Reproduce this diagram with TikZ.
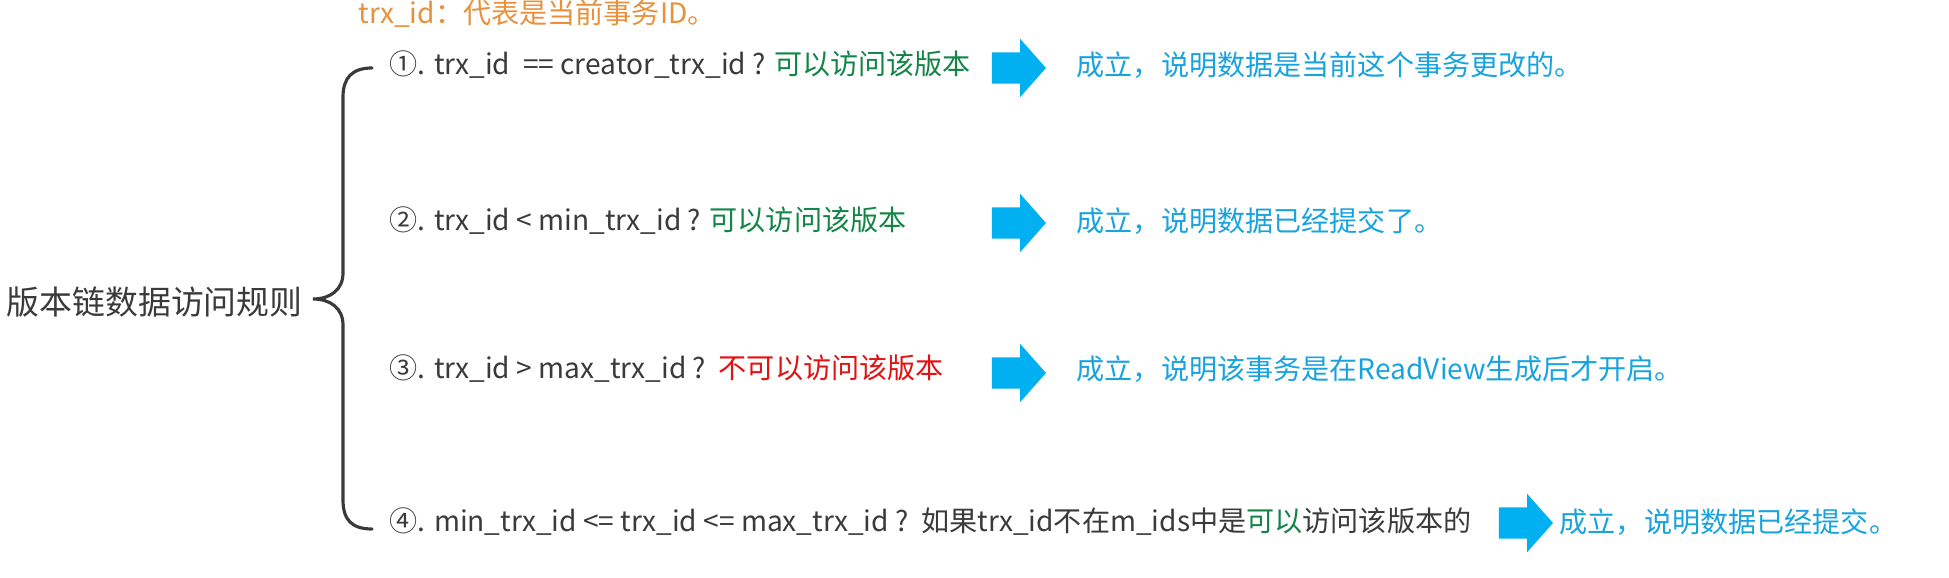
\documentclass[tikz,border=0pt]{standalone}
\usepackage{fontspec}
\setmainfont{Noto Sans CJK SC}
\usepackage{xcolor}
\definecolor{Notecolor}{RGB}{232,145,60}
\definecolor{Okcolor}{RGB}{18,133,70}
\definecolor{Nocolor}{RGB}{226,18,18}
\definecolor{Rescolor}{RGB}{24,162,222}
\definecolor{Blkcolor}{RGB}{0,176,240}
\definecolor{Txtcolor}{RGB}{58,58,58}
\usetikzlibrary{positioning, shapes.arrows}

\begin{document}
\begin{tikzpicture}[
  cond/.style={
    anchor=west, inner sep=0pt, text=Txtcolor,
    font=\fontsize{8pt}{9.5pt}\selectfont
  },
  res/.style={
    anchor=west, inner sep=0pt, text=Rescolor,
    font=\fontsize{8pt}{9.5pt}\selectfont
  },
  blk/.style={
    single arrow, fill=Blkcolor, draw=none,
    minimum height=0.54cm, inner xsep=0pt, inner ysep=0.15cm,
    single arrow head extend=0.135cm, single arrow tip angle=97
  },
  brace/.style={draw=Txtcolor, line width=0.9pt, line cap=round}
]
\useasboundingbox (0,0) rectangle (19.49,5.78);

%% ═══════════════════════════════════════════════
%% Nota y regla
%% ═══════════════════════════════════════════════
\node[cond, text=Notecolor] (note) at (3.58, 5.64)
  {trx\_id：代表是当前事务ID。};
\node[cond, font=\fontsize{9.35pt}{11pt}\selectfont] (rule) at (0.06, 2.76)
  {版本链数据访问规则};

%% Llave
\draw[brace] (3.72, 5.10) .. controls (3.52, 5.10) and (3.43, 5.00) .. (3.43, 4.81)
  -- (3.43, 3.05) .. controls (3.43, 2.88) and (3.30, 2.79) .. (3.13, 2.79)
  .. controls (3.30, 2.79) and (3.43, 2.70) .. (3.43, 2.53)
  -- (3.43, 0.78) .. controls (3.43, 0.58) and (3.52, 0.49) .. (3.72, 0.49);

%% ═══════════════════════════════════════════════
%% Condiciones
%% ═══════════════════════════════════════════════
\node[cond] (cond1) at (3.89, 5.13)
  {①. trx\_id\ \ == creator\_trx\_id ? \textcolor{Okcolor}{可以访问该版本}};
\node[cond] (cond2) at (3.89, 3.57)
  {②. trx\_id < min\_trx\_id ? \textcolor{Okcolor}{可以访问该版本}};
\node[cond] (cond3) at (3.89, 2.09)
  {③. trx\_id > max\_trx\_id ?\ \ \textcolor{Nocolor}{不可以访问该版本}};
\node[cond] (cond4) at (3.89, 0.56)
  {④. min\_trx\_id <= trx\_id <= max\_trx\_id ?\ \ 如果trx\_id不在m\_ids中是\textcolor{Okcolor}{可以}访问该版本的};

%% Flechas de bloque
\node[blk] (blk1) at (10.12, 5.10) {};
\node[blk] (blk2) at (10.12, 3.55) {};
\node[blk] (blk3) at (10.12, 2.05) {};
\node[blk] (blk4) at (15.19, 0.55) {};

%% ═══════════════════════════════════════════════
%% Resultados
%% ═══════════════════════════════════════════════
\node[res] (res1) at (10.76, 5.13) {成立，说明数据是当前这个事务更改的。};
\node[res] (res2) at (10.76, 3.57) {成立，说明数据已经提交了。};
\node[res] (res3) at (10.76, 2.09) {成立，说明该事务是在ReadView生成后才开启。};
\node[res] (res4) at (15.59, 0.56) {成立，说明数据已经提交。};

\end{tikzpicture}
\end{document}
